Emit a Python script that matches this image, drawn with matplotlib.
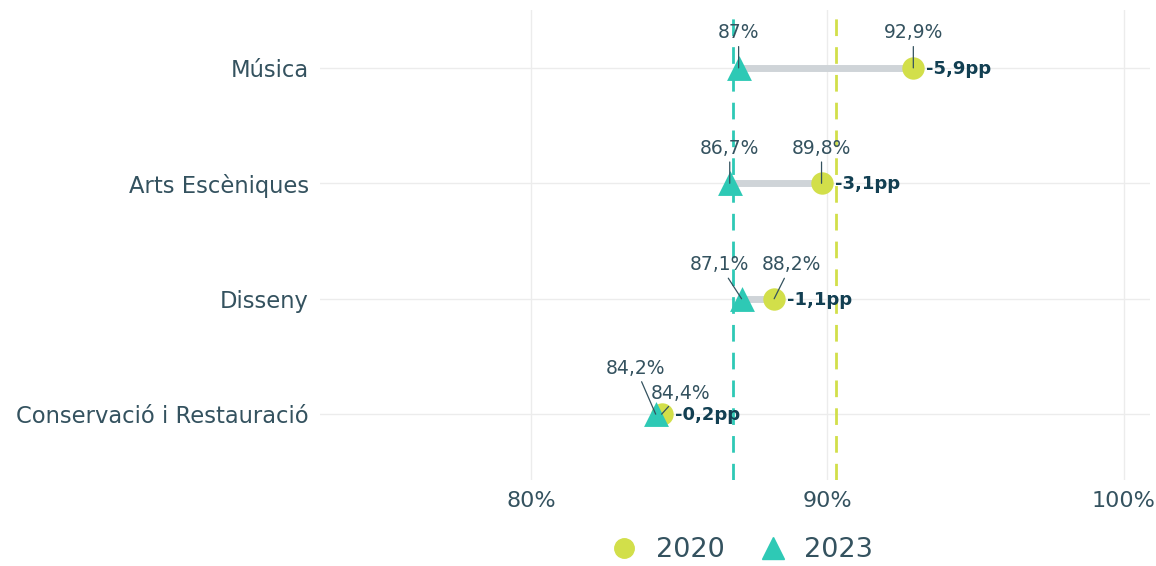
import matplotlib
matplotlib.use("Agg")
import matplotlib.pyplot as plt
from matplotlib.lines import Line2D

# dades
categories = ["Música", "Arts Escèniques", "Disseny", "Conservació i Restauració"]
v2020 = [92.9, 89.8, 88.2, 84.4]
v2023 = [87.0, 86.7, 87.1, 84.2]
diff_labels = ["-5,9pp", "-3,1pp", "-1,1pp", "-0,2pp"]
lab2020 = ["92,9%", "89,8%", "88,2%", "84,4%"]
lab2023 = ["87%", "86,7%", "87,1%", "84,2%"]
mean2020 = 90.3
mean2023 = 86.8
xticks = [80, 90, 100]
xticklabels = ["80%", "90%", "100%"]

# desplaçaments de les etiquetes (pixels)
off2020 = [(0, 35), (0, 35), (17, 34), (19, 21)]
off2023 = [(0, 35), (0, 35), (-22, 34), (-20, 46)]

c20 = "#d2df4a"
c23 = "#2ec9b5"
txt = "#34525f"
dark = "#123f52"

plt.rcParams["font.family"] = "DejaVu Sans"

fig = plt.figure(figsize=(11.56, 5.66), dpi=100)
ax = fig.add_axes([0.277, 0.152, 0.718, 0.830])

ypos = list(range(len(categories)))

for y in ypos:
    ax.axhline(y, color="#ececec", lw=1, zorder=0)
for x in xticks:
    ax.axvline(x, color="#ececec", lw=1, zorder=0)

ax.axvline(mean2023, color=c23, lw=2.0, ls=(0, (6, 4)), zorder=1)
ax.axvline(mean2020, color=c20, lw=2.0, ls=(0, (6, 4)), zorder=1)

for y, a, b in zip(ypos, v2020, v2023):
    ax.plot([a, b], [y, y], color="#cfd4d8", lw=5, solid_capstyle="butt", zorder=2)

ax.scatter(v2020, ypos, s=260, marker="o", color=c20, zorder=3, linewidths=0)
ax.scatter(v2023, ypos, s=320, marker="^", color=c23, zorder=4, linewidths=0)

for i, y in enumerate(ypos):
    ax.annotate(lab2020[i], xy=(v2020[i], y), xytext=off2020[i], textcoords="offset pixels",
                ha="center", va="center", fontsize=13.5, color=txt, zorder=6,
                arrowprops=dict(arrowstyle="-", color=txt, lw=0.9, shrinkA=1, shrinkB=0))
    ax.annotate(lab2023[i], xy=(v2023[i], y), xytext=off2023[i], textcoords="offset pixels",
                ha="center", va="center", fontsize=13.5, color=txt, zorder=6,
                arrowprops=dict(arrowstyle="-", color=txt, lw=0.9, shrinkA=1, shrinkB=0))
    ax.annotate(diff_labels[i], xy=(max(v2020[i], v2023[i]), y), xytext=(13, -1),
                textcoords="offset pixels", ha="left", va="center",
                fontsize=13, fontweight="bold", color=dark, zorder=6)

ax.set_xlim(72.87, 100.9)
ax.set_ylim(3.57, -0.5)
ax.set_yticks(ypos)
ax.set_yticklabels(categories, fontsize=16.3, color=txt)
ax.set_xticks(xticks)
ax.set_xticklabels(xticklabels, fontsize=16, color=txt)
ax.tick_params(length=0, pad=8)
for s in ax.spines.values():
    s.set_visible(False)

handles = [
    Line2D([], [], marker="o", ls="", color=c20, markersize=14, label="2020"),
    Line2D([], [], marker="^", ls="", color=c23, markersize=16, label="2023"),
]
ax.legend(handles=handles, loc="center", bbox_to_anchor=(0.5, -0.15), ncol=2,
          frameon=False, fontsize=19.5, labelcolor=txt, handletextpad=0.15,
          columnspacing=0.8)

fig.savefig("out.png", dpi=100)
